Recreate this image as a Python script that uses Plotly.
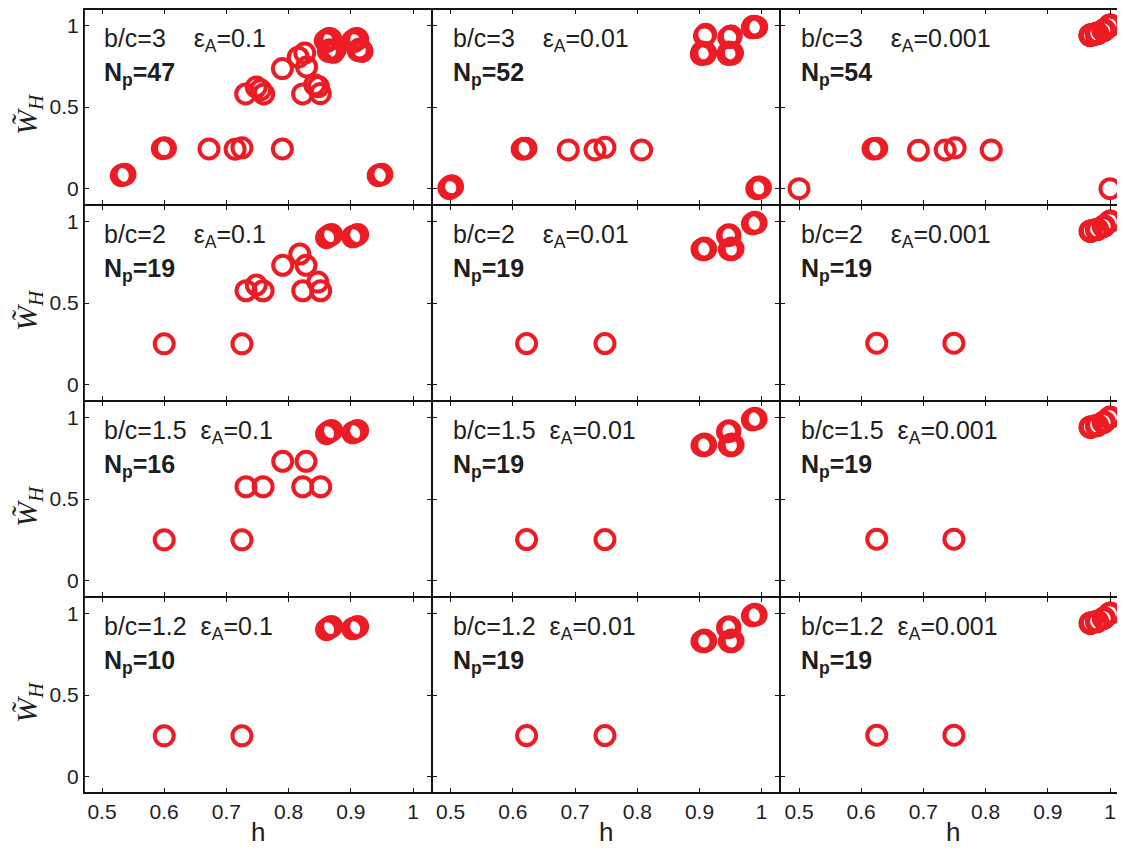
import plotly.graph_objects as go

# ---------------- tick labels / panel labels ----------------
H_TICKS = [0.5, 0.6, 0.7, 0.8, 0.9, 1.0]
H_TICK_TEXT = ["0.5", "0.6", "0.7", "0.8", "0.9", "1"]
W_TICKS = [0, 0.5, 1]
W_TICK_TEXT = ["0", "0.5", "1"]

BC_LABELS = ["3", "2", "1.5", "1.2"]
EPS_LABELS = ["0.1", "0.01", "0.001"]
NP_VALUES = [[47, 52, 54], [19, 19, 19], [16, 19, 19], [10, 19, 19]]

# ---------------- data: epsilon_A = 0.1 ----------------
h_bc3_e1 = [0.531, 0.534, 0.537, 0.597, 0.600, 0.602, 0.672, 0.714, 0.725, 0.790,
            0.944, 0.947, 0.950,
            0.731, 0.748, 0.755, 0.760, 0.790, 0.8155, 0.826, 0.829,
            0.8225, 0.842, 0.848, 0.851,
            0.859, 0.862, 0.864, 0.866, 0.861, 0.868,
            0.864, 0.870, 0.875, 0.872, 0.866,
            0.903, 0.906, 0.908, 0.910, 0.905, 0.911,
            0.912, 0.915, 0.918, 0.914, 0.917]
w_bc3_e1 = [0.080, 0.085, 0.088, 0.245, 0.250, 0.248, 0.243, 0.242, 0.250, 0.243,
            0.080, 0.085, 0.088,
            0.580, 0.622, 0.605, 0.580, 0.735, 0.805, 0.830, 0.745,
            0.580, 0.636, 0.625, 0.582,
            0.905, 0.912, 0.918, 0.920, 0.900, 0.915,
            0.840, 0.845, 0.851, 0.835, 0.850,
            0.905, 0.912, 0.918, 0.920, 0.900, 0.915,
            0.845, 0.851, 0.840, 0.855, 0.848]

h_bc2_e1 = [0.600, 0.725, 0.861, 0.864, 0.867, 0.869, 0.903, 0.906, 0.909, 0.911,
            0.7315, 0.759, 0.7905, 0.828, 0.8227, 0.8516, 0.748, 0.818, 0.847]
w_bc2_e1 = [0.250, 0.250, 0.900, 0.910, 0.915, 0.920, 0.905, 0.910, 0.915, 0.920,
            0.575, 0.575, 0.731, 0.731, 0.575, 0.575, 0.610, 0.800, 0.628]

h_bc15_e1 = [0.600, 0.725, 0.861, 0.864, 0.867, 0.869, 0.903, 0.906, 0.909, 0.911,
             0.7315, 0.759, 0.7905, 0.828, 0.8227, 0.8516]
w_bc15_e1 = [0.250, 0.250, 0.900, 0.910, 0.915, 0.920, 0.905, 0.910, 0.915, 0.920,
             0.575, 0.575, 0.731, 0.731, 0.575, 0.575]

h_bc12_e1 = [0.600, 0.725, 0.861, 0.864, 0.867, 0.869, 0.903, 0.906, 0.909, 0.911]
w_bc12_e1 = [0.250, 0.250, 0.900, 0.910, 0.915, 0.920, 0.905, 0.910, 0.915, 0.920]

# ---------------- data: epsilon_A = 0.01 ----------------
h_bc3_e2 = [0.497, 0.499, 0.500, 0.501, 0.503, 0.498, 0.502, 0.500,
            0.615, 0.617, 0.619, 0.621,
            0.689, 0.732, 0.748, 0.807,
            0.992, 0.994, 0.995, 0.996, 0.998,
            0.908, 0.910,
            0.903, 0.905, 0.906, 0.907, 0.908, 0.910, 0.904, 0.909,
            0.947, 0.949, 0.951, 0.948, 0.950,
            0.946, 0.948, 0.949, 0.950, 0.951, 0.953, 0.947, 0.952,
            0.985, 0.987, 0.988, 0.989, 0.990, 0.991, 0.986, 0.992]
w_bc3_e2 = [0.005, 0.010, 0.015, 0.008, 0.012, 0.000, 0.018, 0.010,
            0.242, 0.246, 0.244, 0.248,
            0.237, 0.237, 0.253, 0.237,
            0.000, 0.005, 0.010, 0.003, 0.008,
            0.935, 0.945,
            0.822, 0.826, 0.830, 0.834, 0.828, 0.832, 0.836, 0.824,
            0.925, 0.930, 0.935, 0.928, 0.933,
            0.822, 0.826, 0.830, 0.834, 0.828, 0.832, 0.836, 0.824,
            0.985, 0.990, 0.995, 0.988, 0.992, 0.987, 0.993, 0.990]

h_low_e2 = [0.622, 0.748,
            0.904, 0.906, 0.908, 0.910, 0.907,
            0.945, 0.947, 0.949,
            0.948, 0.950, 0.952, 0.954, 0.951,
            0.985, 0.987, 0.989, 0.991]
w_low_e2 = [0.252, 0.252,
            0.828, 0.832, 0.836, 0.832, 0.826,
            0.912, 0.918, 0.915,
            0.828, 0.832, 0.836, 0.832, 0.826,
            0.985, 0.990, 0.995, 0.990]

# ---------------- data: epsilon_A = 0.001 ----------------
h_bc3_e3 = [0.500, 0.619, 0.621, 0.623, 0.625, 0.692, 0.735, 0.751, 0.809, 1.000,
            0.968, 0.969, 0.970, 0.968, 0.969, 0.970, 0.968, 0.969, 0.970, 0.969, 0.968,
            0.978, 0.979, 0.980, 0.978, 0.979, 0.980, 0.978, 0.979, 0.980, 0.979, 0.978,
            0.989, 0.990, 0.991, 0.989, 0.990, 0.991, 0.989, 0.990, 0.991, 0.990, 0.989,
            0.999, 1.000, 1.001, 0.999, 1.000, 1.001, 0.999, 1.000, 1.001, 1.000, 0.999]
w_bc3_e3 = [0.000, 0.243, 0.246, 0.244, 0.248, 0.235, 0.237, 0.250, 0.237, 0.000,
            0.938, 0.940, 0.942, 0.939, 0.941, 0.940, 0.938, 0.942, 0.940, 0.941, 0.939,
            0.948, 0.950, 0.952, 0.949, 0.951, 0.950, 0.948, 0.952, 0.950, 0.951, 0.949,
            0.968, 0.970, 0.972, 0.969, 0.971, 0.970, 0.968, 0.972, 0.970, 0.971, 0.969,
            0.998, 1.000, 1.002, 0.999, 1.001, 1.000, 0.998, 1.002, 1.000, 1.001, 0.999]

h_low_e3 = [0.625, 0.749,
            0.968, 0.969, 0.970, 0.969, 0.968,
            0.978, 0.979, 0.980, 0.979,
            0.989, 0.990, 0.991, 0.990,
            0.999, 1.000, 1.001, 1.000]
w_low_e3 = [0.254, 0.254,
            0.938, 0.940, 0.942, 0.940, 0.941,
            0.948, 0.950, 0.952, 0.950,
            0.968, 0.970, 0.972, 0.970,
            0.998, 1.000, 1.002, 1.000]

H_DATA = [[h_bc3_e1, h_bc3_e2, h_bc3_e3],
          [h_bc2_e1, h_low_e2, h_low_e3],
          [h_bc15_e1, h_low_e2, h_low_e3],
          [h_bc12_e1, h_low_e2, h_low_e3]]
W_DATA = [[w_bc3_e1, w_bc3_e2, w_bc3_e3],
          [w_bc2_e1, w_low_e2, w_low_e3],
          [w_bc15_e1, w_low_e2, w_low_e3],
          [w_bc12_e1, w_low_e2, w_low_e3]]

# ---------------- layout geometry (window pixels) ----------------
OFF = 8                      # default page margin around the plot div
FW, FH = 1125 - OFF, 849 - OFF
COL_PX = [(84, 432), (432, 780), (780, 1125)]
COL_X05 = [102.0, 450.7, 799.0]   # window pixel of h = 0.5
PX_PER_H = 622.0
ROW_PX = [(9, 205), (205, 401), (401, 597), (597, 793)]


def px_x(p):
    return min(1.0, (p - OFF) / FW)


def px_y(p):
    return 1 - (p - OFF) / FH


RED = "#ED1C24"
SANS = "Liberation Sans, Arial, sans-serif"
SERIF = "Liberation Serif, Times New Roman, serif"
TXT = "#1e1e1e"
LINE = "#151515"
NB = "\u00a0"

fig = go.Figure()
annotations = []
shapes = []

for r in range(4):
    for c in range(3):
        i = r * 3 + c + 1
        sfx = "" if i == 1 else str(i)
        fig.add_trace(go.Scatter(
            x=H_DATA[r][c], y=W_DATA[r][c], mode="markers",
            xaxis="x" + sfx, yaxis="y" + sfx,
            marker=dict(symbol="circle-open", size=19, color=RED,
                        line=dict(width=4, color=RED)),
            showlegend=False, hoverinfo="skip"))

        x0p, x1p = COL_PX[c]
        y0p, y1p = ROW_PX[r]
        hmin = 0.5 - (COL_X05[c] - x0p) / PX_PER_H
        hmax = 0.5 + (x1p - COL_X05[c]) / PX_PER_H
        fig.layout["xaxis" + sfx] = dict(
            domain=[px_x(x0p), px_x(x1p)], range=[hmin, hmax],
            anchor="y" + sfx, showgrid=False, zeroline=False,
            showline=True, linecolor=LINE, linewidth=1, mirror="allticks",
            ticks="inside", ticklen=5, tickwidth=1, tickcolor=LINE,
            tickvals=H_TICKS, ticktext=H_TICK_TEXT,
            showticklabels=(r == 3),
            tickfont=dict(family=SANS, size=21, color=TXT))
        fig.layout["yaxis" + sfx] = dict(
            domain=[px_y(y1p), px_y(y0p)], range=[-0.1, 1.1],
            anchor="x" + sfx, showgrid=False, zeroline=False,
            showline=True, linecolor=LINE, linewidth=1, mirror="allticks",
            ticks="inside", ticklen=5, tickwidth=1, tickcolor=LINE,
            tickvals=W_TICKS, ticktext=W_TICK_TEXT,
            showticklabels=(c == 0),
            tickfont=dict(family=SANS, size=21, color=TXT))

        gap = NB * 4 if len(BC_LABELS[r]) == 1 else NB * 2
        annotations.append(dict(
            xref="x" + sfx, yref="y" + sfx, x=0.5, y=0.91,
            xanchor="left", yanchor="middle", showarrow=False,
            text=f"b/c={BC_LABELS[r]}{gap}ε<sub>A</sub>={EPS_LABELS[c]}",
            font=dict(family=SANS, size=25, color=TXT)))
        annotations.append(dict(
            xref="x" + sfx, yref="y" + sfx, x=0.5, y=0.70,
            xanchor="left", yanchor="middle", showarrow=False,
            text=f"<b>N<sub>p</sub>={NP_VALUES[r][c]}</b>",
            font=dict(family=SANS, size=25, color=TXT)))

# panel frame lines (single crisp lines shared between neighbouring panels)
X_EDGES = [84, 432, 780, 1125]
Y_EDGES = [9, 205, 401, 597, 793]
for xp in X_EDGES[:-1]:
    shapes.append(dict(type="line", xref="paper", yref="paper",
                       x0=px_x(xp), x1=px_x(xp), y0=px_y(Y_EDGES[-1]), y1=px_y(Y_EDGES[0]),
                       line=dict(color=LINE, width=1.8), layer="above"))
for yp in Y_EDGES:
    shapes.append(dict(type="line", xref="paper", yref="paper",
                       x0=px_x(X_EDGES[0]), x1=px_x(X_EDGES[-1]), y0=px_y(yp), y1=px_y(yp),
                       line=dict(color=LINE, width=1.8), layer="above"))

# axis titles
for c in range(3):
    annotations.append(dict(
        xref="paper", yref="paper", x=px_x((COL_PX[c][0] + min(COL_PX[c][1], 1128)) / 2),
        y=px_y(832), xanchor="center", yanchor="middle", showarrow=False,
        text="h", font=dict(family=SANS, size=26, color=TXT)))
for r in range(4):
    annotations.append(dict(
        xref="paper", yref="paper", x=px_x(29),
        y=px_y((ROW_PX[r][0] + ROW_PX[r][1]) / 2 + 7),
        xanchor="center", yanchor="middle", showarrow=False, textangle=-90,
        text="<i>W\u0303</i><sub><i>H</i></sub>",
        font=dict(family=SERIF, size=30, color=TXT)))

fig.update_layout(
    width=FW, height=FH, margin=dict(l=0, r=0, t=0, b=0),
    paper_bgcolor="white", plot_bgcolor="white",
    annotations=annotations, shapes=shapes)

fig.write_html("out.html")
